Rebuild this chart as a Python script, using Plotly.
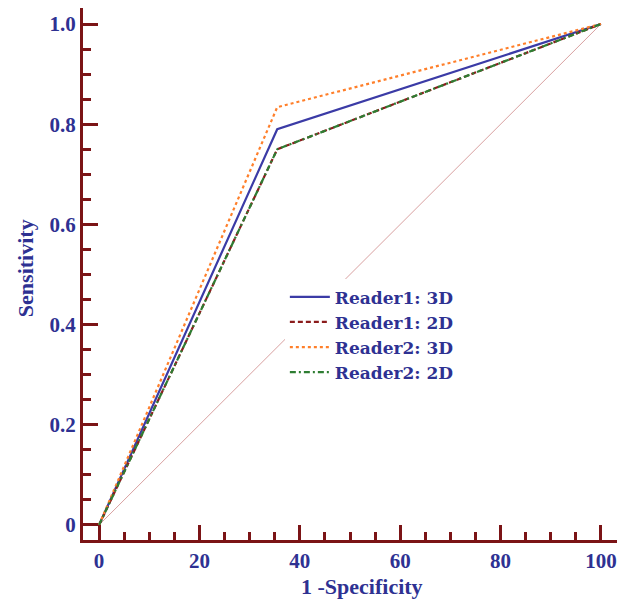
import plotly.graph_objects as go

fpr = [0, 35.5, 100]
r1_3d = [0, 0.79, 1.0]
r1_2d = [0, 0.75, 1.0]
r2_3d = [0, 0.834, 1.0]
r2_2d = [0, 0.75, 1.0]
diag_x = [0, 100]
diag_y = [0, 1.0]

x_ticks = [0, 20, 40, 60, 80, 100]
x_labels = ["0", "20", "40", "60", "80", "100"]
y_ticks = [0, 0.2, 0.4, 0.6, 0.8, 1.0]
y_labels = ["0", "0.2", "0.4", "0.6", "0.8", "1.0"]
x_title = "1 -Specificity"
y_title = "Sensitivity"

navy = "#2e3192"
axis_col = "#7b1416"
font_fam = "Liberation Serif"

fig = go.Figure()
fig.add_trace(go.Scatter(x=diag_x, y=diag_y, mode="lines", showlegend=False,
                         line=dict(color="#d8a0a0", width=1)))
fig.add_trace(go.Scatter(x=fpr, y=r1_3d, mode="lines", name="Reader1: 3D",
                         line=dict(color="#3b3ba6", width=2.2)))
fig.add_trace(go.Scatter(x=fpr, y=r1_2d, mode="lines", name="Reader1: 2D",
                         line=dict(color="#8b1c1c", width=2.2, dash="5px,3px")))
fig.add_trace(go.Scatter(x=fpr, y=r2_3d, mode="lines", name="Reader2: 3D",
                         line=dict(color="#ff7f2a", width=2.2, dash="dot")))
fig.add_trace(go.Scatter(x=fpr, y=r2_2d, mode="lines", name="Reader2: 2D",
                         line=dict(color="#2e7d32", width=2.2, dash="6px,3px,2px,3px")))

tick_font = dict(family=font_fam, size=21, color=navy, weight="bold")
title_font = dict(family=font_fam, size=22, color=navy, weight="bold")

fig.update_xaxes(range=[-3.2, 103.2], tickmode="array", tickvals=x_ticks, ticktext=x_labels,
                 showgrid=False, zeroline=False, showline=True, linecolor=axis_col,
                 linewidth=3, ticks="inside", ticklen=15, tickwidth=3, tickcolor=axis_col,
                 automargin=False, tickfont=tick_font,
                 minor=dict(tickmode="linear", tick0=0, dtick=5, ticks="inside", ticklen=8, tickwidth=3, tickcolor=axis_col))
fig.update_yaxes(range=[-0.03, 1.032], tickmode="array", tickvals=y_ticks, ticktext=y_labels,
                 showgrid=False, zeroline=False, showline=True, linecolor=axis_col,
                 linewidth=3, ticks="inside", ticklen=15, tickwidth=3, tickcolor=axis_col,
                 automargin=False, tickfont=tick_font,
                 minor=dict(tickmode="linear", tick0=0, dtick=0.05, ticks="inside", ticklen=8, tickwidth=3, tickcolor=axis_col))

fig.add_annotation(text=x_title, xref="paper", yref="paper", x=0.5225, y=-0.0883,
                   xanchor="center", yanchor="middle", showarrow=False, font=title_font)
fig.add_annotation(text=y_title, xref="paper", yref="paper", x=-0.1086, y=0.511,
                   xanchor="center", yanchor="middle", showarrow=False, textangle=-90, font=title_font)

fig.update_layout(
    width=617, height=594,
    margin=dict(l=75, r=8, t=0, b=62),
    plot_bgcolor="white", paper_bgcolor="white",
    legend=dict(x=0.378, y=0.49, xanchor="left", yanchor="top", bgcolor="white",
                font=dict(family="DejaVu Serif", size=17, color=navy, weight="bold"),
                tracegroupgap=0, itemwidth=40),
)

fig.write_html("out.html")
